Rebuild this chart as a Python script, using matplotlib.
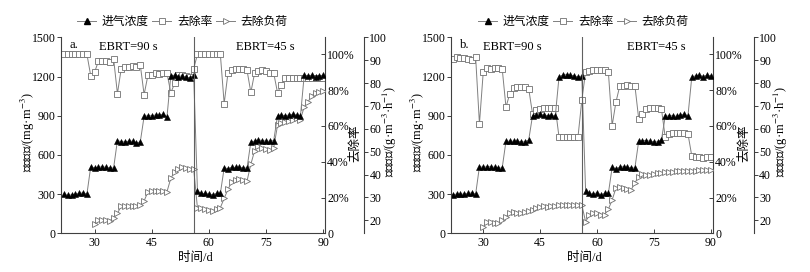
import numpy as np
import matplotlib
matplotlib.use('Agg')
import matplotlib.pyplot as plt
from matplotlib.lines import Line2D

plt.rcParams['font.family'] = ['Liberation Serif', 'Noto Sans CJK SC']
plt.rcParams['mathtext.fontset'] = 'stix'
plt.rcParams['axes.unicode_minus'] = False

# ---------------- data ----------------
days_conc = np.arange(22, 91)      # daily inlet concentration / removal
days_load = np.arange(30, 91)      # daily removal load

conc_a = [300, 290, 295, 300, 305, 310, 300,
          510, 500, 505, 510, 505, 500, 500,
          710, 700, 700, 705, 705, 690, 700,
          895, 900, 900, 905, 905, 910, 890,
          1205, 1210, 1200, 1205, 1195, 1190, 1210,
          320, 305, 305, 300, 295, 305, 305,
          500, 495, 505, 505, 505, 500, 500,
          700, 705, 715, 710, 705, 705, 710,
          900, 905, 900, 905, 910, 905, 895,
          1210, 1205, 1210, 1195, 1205, 1210]
rem_a = [100, 100, 100, 100, 100, 100, 100,
         88, 90, 96, 96, 96, 95.5, 97.5,
         78, 92, 93, 93, 93.5, 93, 94,
         77.5, 88.3, 88.3, 89.7, 89, 89.7, 89.5,
         78.5, 83.7, 88.3, 88.7, 88, 87.5, 92,
         100, 100, 100, 100, 100, 100, 100,
         72.5, 89.5, 91.5, 92, 92, 92, 91,
         78.7, 89.7, 90.5, 91, 90.5, 89.5, 89.5,
         78.5, 83, 86.5, 86.5, 86.5, 86.5, 86.5,
         87, 87, 87, 87, 87, 87]
load_a = [18.4, 20.3, 20.2, 20, 19.8, 21,
          23, 26.2, 26.2, 26.3, 26.2, 26.3, 26.5,
          28.4, 32.5, 32.6, 32.8, 32.7, 32.6, 32.5,
          38.3, 41.2, 42.4, 43.4, 43, 42.6, 42.5,
          25.2, 25.3, 25, 24.5, 24.2, 25, 25.5,
          29.6, 33.5, 36.9, 37.8, 38, 37.6, 37.2,
          44.5, 50.5, 52.4, 51.8, 51.2, 50.6, 51.8,
          61.5, 62.5, 63, 63.5, 63.8, 64.5, 64,
          69.6, 71.8, 74.5, 75.8, 76, 76.5]

conc_b = [295, 300, 300, 300, 305, 310, 300,
          510, 505, 510, 510, 505, 500, 500,
          705, 705, 705, 705, 700, 700, 715,
          900, 905, 910, 905, 900, 905, 895,
          1200, 1210, 1215, 1210, 1205, 1195, 1205,
          325, 305, 300, 310, 295, 305, 305,
          505, 495, 505, 510, 505, 500, 500,
          705, 710, 710, 705, 700, 700, 715,
          895, 900, 900, 895, 905, 910, 900,
          1195, 1205, 1210, 1200, 1210, 1205]
rem_b = [97.5, 98.5, 98, 98, 97.5, 97, 98.3,
         61.2, 90, 92.1, 92, 92.3, 92.5, 92,
         70.5, 78, 81.2, 81.5, 81.5, 81.8, 80.7,
         66.8, 69, 69.6, 70, 69.8, 70, 70.2,
         53.6, 53.6, 54, 54, 54, 54, 74.3,
         90.2, 90.8, 91, 91.2, 91.5, 91, 90.2,
         60.2, 73.3, 82.2, 82.5, 83, 82.5, 82.5,
         64, 66.8, 69.6, 70, 70.2, 70, 69.5,
         53.6, 55.5, 56, 56.2, 56, 55.8, 55.5,
         43.3, 42.4, 42.4, 42.2, 42.4, 42.6]
load_b = [17, 19.4, 19.2, 19, 18.8, 20.1,
          21.6, 23, 23.8, 23.2, 23.3, 23.5, 24,
          24.5, 25.5, 26, 26.3, 26, 26.2, 26.3,
          26.5, 26.5, 26.6, 26.8, 26.8, 26.7, 26.7,
          19.4, 22.3, 23, 23, 22.3, 22.5, 24.8,
          28.9, 34, 34.4, 34.2, 33.8, 33.2, 36.4,
          39, 40.2, 40, 40, 40.3, 40.6, 40.8,
          41, 41.2, 41.3, 41.5, 41.4, 41.5, 41.6,
          41.6, 41.7, 41.8, 41.8, 42, 42]

switch_day = 56
x_ticks = [30, 45, 60, 75, 90]
conc_ticks = [0, 300, 600, 900, 1200, 1500]
rem_ticks = [0, 20, 40, 60, 80, 100]
rem_labels = ['0', '20%', '40%', '60%', '80%', '100%']
load_ticks = [20, 30, 40, 50, 60, 70, 80, 90, 100]
series_names = ['进气浓度', '去除率', '去除负荷']
panel_tags = ['a.', 'b.']
ebrt_labels = ['EBRT=90 s', 'EBRT=45 s']

# ---------------- layout ----------------
W, H = 810, 272
fig = plt.figure(figsize=(W / 100, H / 100), dpi=100)


def fx(px):
    return px / W


def fy(py):
    return 1 - py / H


TOP, BOT = 37.3, 233.3
SP = '#404040'
LC = '#808080'

panels = [
    dict(l=61, r=325, xlim=(21.2, 90.45), off=1.148, conc=conc_a, rem=rem_a, load=load_a,
         tag=(70, 'a.'), e1=128.5, e2=265.7, leg=182.5, ylab=28, xlab=195.5,
         rl=355, ll=390),
    dict(l=451, r=713, xlim=(21.5, 90.6), off=1.156, conc=conc_b, rem=rem_b, load=load_b,
         tag=(460, 'b.'), e1=512.5, e2=656.5, leg=583.5, ylab=418, xlab=584,
         rl=744, ll=781),
]

for p in panels:
    ax = fig.add_axes([fx(p['l']), fy(BOT), fx(p['r'] - p['l']), (BOT - TOP) / H])
    ax2 = ax.twinx()
    ax3 = ax.twinx()
    ax3.spines['right'].set_position(('axes', p['off']))

    for s in ['top', 'right']:
        ax.spines[s].set_visible(False)
    for a in (ax2, ax3):
        for s in ['top', 'left', 'bottom']:
            a.spines[s].set_visible(False)
    for a in (ax, ax2, ax3):
        for s in a.spines.values():
            s.set_color(SP)
            s.set_linewidth(0.8)

    ax.set_zorder(3)
    ax.patch.set_visible(False)
    ax3.set_zorder(2)
    ax2.set_zorder(1)

    ax2.plot(days_conc, p['rem'], color=LC, lw=0.7, marker='s', ms=3.8,
             mfc='white', mec='#707070', mew=0.6)
    ax3.plot(days_load, p['load'], color=LC, lw=0.7, marker='>', ms=4.2,
             mfc='white', mec='#707070', mew=0.6)
    ax.plot(days_conc, p['conc'], color=LC, lw=0.7, marker='^', ms=4.2,
            mfc='black', mec='black', mew=0.4)
    ax.axvline(switch_day, color='#606060', lw=0.8)

    ax.set_xlim(*p['xlim'])
    ax.set_ylim(0, 1500)
    ax2.set_ylim(0, 109.5)
    ax3.set_ylim(14.3, 100)

    ax.set_xticks(x_ticks)
    ax.set_yticks(conc_ticks)
    ax2.set_yticks(rem_ticks)
    ax2.set_yticklabels(rem_labels)
    ax3.set_yticks(load_ticks)

    ax.tick_params(axis='x', direction='in', length=3, width=0.7, labelsize=8.5, pad=3, colors=SP, labelcolor='black')
    ax.tick_params(axis='y', direction='out', length=3, width=0.7, labelsize=8.5, pad=1, colors=SP, labelcolor='black')
    ax2.tick_params(axis='y', direction='in', length=3, width=0.7, labelsize=8.5, pad=1.5, colors=SP, labelcolor='black')
    ax3.tick_params(axis='y', direction='out', length=3, width=0.7, labelsize=8.5, pad=0.8, colors=SP, labelcolor='black')

    # texts
    fig.text(fx(p['tag'][0]), fy(48.5), p['tag'][1], fontsize=9, ha='left', va='baseline')
    fig.text(fx(p['e1']), fy(50), ebrt_labels[0], fontsize=9, ha='center', va='baseline')
    fig.text(fx(p['e2']), fy(50), ebrt_labels[1], fontsize=9, ha='center', va='baseline')

    fig.text(fx(p['ylab']), fy(132.5), '进气浓度/(mg·m$^{-3}$)', rotation=90,
             ha='center', va='center', fontsize=9)
    fig.text(fx(p['xlab']), fy(258), '时间/d', ha='center', va='center', fontsize=9)
    fig.text(fx(p['rl']), fy(143), '去除率', rotation=90, ha='center', va='center', fontsize=9)
    fig.text(fx(p['ll']), fy(131), '去除负荷/(g·m$^{-3}$·h$^{-1}$)', rotation=90,
             ha='center', va='center', fontsize=9)

    handles = [
        Line2D([], [], color=LC, lw=0.7, marker='^', ms=4.2, mfc='black', mec='black'),
        Line2D([], [], color=LC, lw=0.7, marker='s', ms=3.8, mfc='white', mec='#707070', mew=0.6),
        Line2D([], [], color=LC, lw=0.7, marker='>', ms=4.2, mfc='white', mec='#707070', mew=0.6),
    ]
    fig.legend(handles, series_names, loc='center', bbox_to_anchor=(fx(p['leg']), fy(22)),
               ncol=3, frameon=False, fontsize=8.5, handlelength=1.6, handletextpad=0.5,
               columnspacing=0.3, borderpad=0, borderaxespad=0)

fig.savefig('out.png', dpi=100)
